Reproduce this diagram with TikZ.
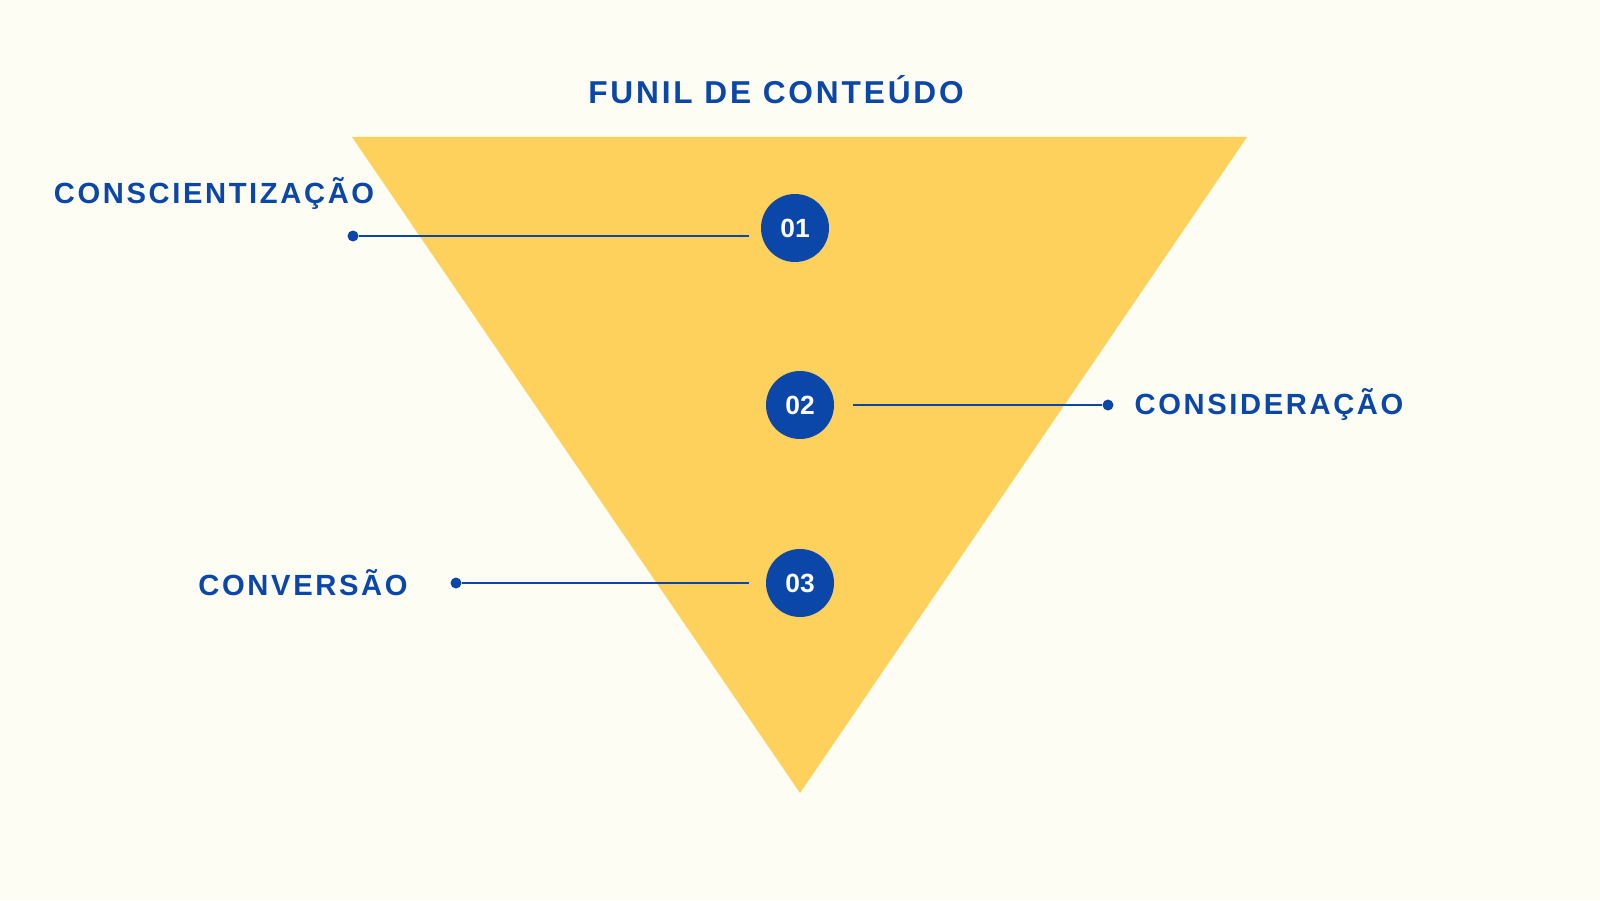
\documentclass[tikz,border=0pt]{standalone}
\usepackage{fontspec}
\setmainfont{Liberation Sans}
\newfontfamily\spaced[LetterSpace=9]{Liberation Sans}
\usetikzlibrary{positioning}
\definecolor{funnelblue}{HTML}{0A47A9}
\definecolor{funnelyellow}{HTML}{FDD15C}
\definecolor{paper}{HTML}{FEFDF4}

\begin{document}
\begin{tikzpicture}[
    stage/.style={circle, fill=funnelblue, text=white, minimum size=0.68cm, inner sep=0pt, font=\bfseries\fontsize{7.5}{8}\selectfont},
    label/.style={text=funnelblue, font=\spaced\bfseries\fontsize{8.3}{9}\selectfont},
    leader/.style={draw=funnelblue, line width=0.5pt},
    pin/.style={circle, fill=funnelblue, inner sep=0pt, minimum size=1.1mm}
]
    % Background
    \fill[paper] (0,0) rectangle (16,9);
    \useasboundingbox (0,0) rectangle (16,9);

    % Funnel
    \fill[funnelyellow] (3.52,7.63) -- (12.47,7.63) -- (8.00,1.07) -- cycle;

    % Title
    \node[label, font=\spaced\bfseries\fontsize{9}{10}\selectfont] (title) at (7.76,8.10) {FUNIL DE CONTEÚDO};

    % Stages
    \node[stage] (s1) at (7.95,6.72) {01};
    \node[stage] (s2) at (8.00,4.95) {02};
    \node[stage] (s3) at (8.00,3.17) {03};

    % Pins
    \node[pin] (p1) at (3.53,6.64) {};
    \node[pin] (p2) at (11.08,4.95) {};
    \node[pin] (p3) at (4.56,3.17) {};
    \coordinate (e1) at (7.49,6.64);
    \coordinate (e2) at (8.53,4.95);
    \coordinate (e3) at (7.49,3.17);

    % Labels
    \node[label] (l1) at (2.14,7.06) {CONSCIENTIZAÇÃO};
    \node[label] (l2) at (12.69,4.95) {CONSIDERAÇÃO};
    \node[label] (l3) at (3.03,3.17) {CONVERSÃO};

    % Leaders
    \draw[leader] (p1) -- (e1);
    \draw[leader] (e2) -- (p2);
    \draw[leader] (p3) -- (e3);
\end{tikzpicture}
\end{document}
